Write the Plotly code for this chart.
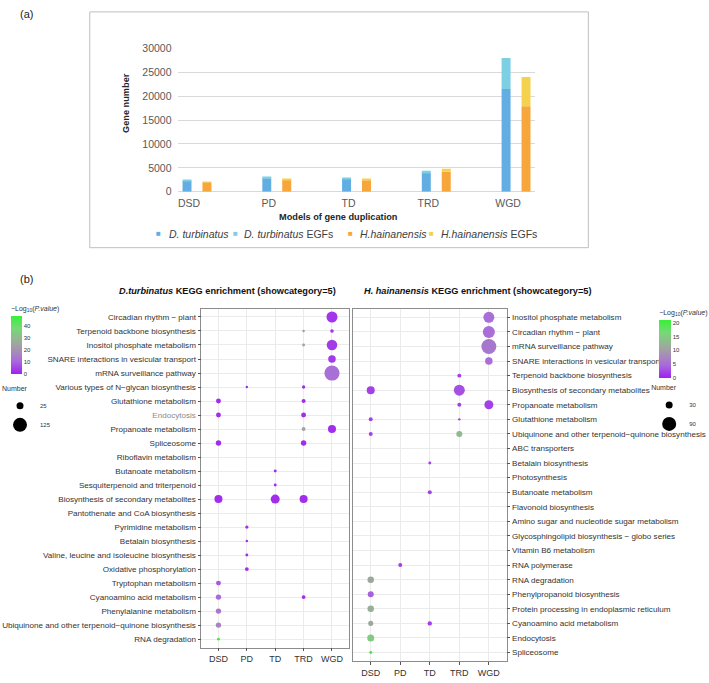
import math
import plotly.graph_objects as go

W, H = 709, 683
FONT = "Liberation Sans, Arial, sans-serif"

# ---------------- Panel (a) data ----------------
models = ["DSD", "PD", "TD", "TRD", "WGD"]
dt_genes = [2250, 2800, 2680, 3980, 21500]      # D. turbinatus
dt_egfs = [150, 280, 200, 400, 6500]            # D. turbinatus EGFs
hh_genes = [1970, 2480, 2410, 4190, 17900]      # H. hainanensis
hh_egfs = [150, 250, 200, 600, 6150]            # H. hainanensis EGFs

# ---------------- Panel (b) data ----------------
dt_pathways = [
    "Circadian rhythm − plant", "Terpenoid backbone biosynthesis",
    "Inositol phosphate metabolism", "SNARE interactions in vesicular transport",
    "mRNA surveillance pathway", "Various types of N−glycan biosynthesis",
    "Glutathione metabolism", "Endocytosis", "Propanoate metabolism", "Spliceosome",
    "Riboflavin metabolism", "Butanoate metabolism", "Sesquiterpenoid and triterpenoid",
    "Biosynthesis of secondary metabolites", "Pantothenate and CoA biosynthesis",
    "Pyrimidine metabolism", "Betalain biosynthesis",
    "Valine, leucine and isoleucine biosynthesis", "Oxidative phosphorylation",
    "Tryptophan metabolism", "Cyanoamino acid metabolism", "Phenylalanine metabolism",
    "Ubiquinone and other terpenoid−quinone biosynthesis", "RNA degradation",
]
dt_dot_path = [
    "Circadian rhythm − plant", "Terpenoid backbone biosynthesis", "Terpenoid backbone biosynthesis",
    "Inositol phosphate metabolism", "Inositol phosphate metabolism",
    "SNARE interactions in vesicular transport", "mRNA surveillance pathway",
    "Various types of N−glycan biosynthesis", "Various types of N−glycan biosynthesis",
    "Glutathione metabolism", "Glutathione metabolism", "Endocytosis", "Endocytosis",
    "Propanoate metabolism", "Propanoate metabolism", "Spliceosome", "Spliceosome",
    "Butanoate metabolism", "Sesquiterpenoid and triterpenoid",
    "Biosynthesis of secondary metabolites", "Biosynthesis of secondary metabolites",
    "Biosynthesis of secondary metabolites", "Pyrimidine metabolism", "Betalain biosynthesis",
    "Valine, leucine and isoleucine biosynthesis", "Oxidative phosphorylation",
    "Tryptophan metabolism", "Cyanoamino acid metabolism", "Cyanoamino acid metabolism",
    "Phenylalanine metabolism", "Ubiquinone and other terpenoid−quinone biosynthesis",
    "RNA degradation",
]
dt_dot_model = ["WGD", "TRD", "WGD", "TRD", "WGD", "WGD", "WGD", "PD", "TRD", "DSD", "TRD",
                "DSD", "TRD", "TRD", "WGD", "DSD", "TRD", "TD", "TD", "DSD", "TD", "TRD",
                "PD", "PD", "PD", "PD", "DSD", "DSD", "TRD", "DSD", "DSD", "DSD"]
dt_dot_number = [73, 1, 4, 2, 66, 30, 150, 1, 3, 10, 6, 10, 10, 5, 35, 13, 13, 2, 2,
                 35, 46, 35, 3, 1, 2, 5, 10, 13, 5, 13, 13, 2]
dt_dot_logp = [3, 22, 3, 24, 4, 4, 12, 1.5, 2, 2, 2, 2, 2, 24, 2, 2, 2, 2, 2,
               2, 2, 2, 2, 1.5, 2, 2, 8, 11, 2, 14, 17, 47]

hh_pathways = [
    "Inositol phosphate metabolism", "Circadian rhythm − plant", "mRNA surveillance pathway",
    "SNARE interactions in vesicular transport", "Terpenoid backbone biosynthesis",
    "Biosynthesis of secondary metabolites", "Propanoate metabolism", "Glutathione metabolism",
    "Ubiquinone and other terpenoid−quinone biosynthesis", "ABC transporters",
    "Betalain biosynthesis", "Photosynthesis", "Butanoate metabolism", "Flavonoid biosynthesis",
    "Amino sugar and nucleotide sugar metabolism", "Glycosphingolipid biosynthesis − globo series",
    "Vitamin B6 metabolism", "RNA polymerase", "RNA degradation", "Phenylpropanoid biosynthesis",
    "Protein processing in endoplasmic reticulum", "Cyanoamino acid metabolism", "Endocytosis",
    "Spliceosome",
]
hh_dot_path = [
    "Inositol phosphate metabolism", "Circadian rhythm − plant", "mRNA surveillance pathway",
    "SNARE interactions in vesicular transport", "Terpenoid backbone biosynthesis",
    "Biosynthesis of secondary metabolites", "Biosynthesis of secondary metabolites",
    "Propanoate metabolism", "Propanoate metabolism", "Glutathione metabolism",
    "Glutathione metabolism", "Ubiquinone and other terpenoid−quinone biosynthesis",
    "Ubiquinone and other terpenoid−quinone biosynthesis", "Betalain biosynthesis",
    "Butanoate metabolism", "RNA polymerase", "RNA degradation", "Phenylpropanoid biosynthesis",
    "Protein processing in endoplasmic reticulum", "Cyanoamino acid metabolism",
    "Cyanoamino acid metabolism", "Endocytosis", "Spliceosome",
]
hh_dot_model = ["WGD", "WGD", "WGD", "WGD", "TRD", "DSD", "TRD", "TRD", "WGD", "DSD", "TRD",
                "DSD", "TRD", "TD", "TD", "PD", "DSD", "DSD", "DSD", "DSD", "TD", "DSD", "DSD"]
hh_dot_number = [60, 70, 101, 33, 14, 37, 60, 14, 44, 14, 8, 14, 24, 10, 14, 14, 27, 24,
                 27, 19, 16, 30, 10]
hh_dot_logp = [5, 5, 6, 5, 2, 2, 3, 2, 2, 2, 2, 2, 13, 2, 2, 2, 11, 4, 12, 11, 2, 15, 20.7]

dt_size_legend = [25, 125]
hh_size_legend = [30, 90]

# ---------------- helpers ----------------
def px(x):
    return x / W


def py(y):
    return 1 - y / H


def size_scale(ref_n, ref_d):
    """ggplot-like size scale: diameter linear in sqrt(Number), fixed by legend keys."""
    s0, s1 = math.sqrt(ref_n[0]), math.sqrt(ref_n[1])
    b = (ref_d[1] - ref_d[0]) / (s1 - s0)
    a = ref_d[0] - b * s0
    return lambda n: max(2.0, a + b * math.sqrt(n))


dt_size = size_scale(dt_size_legend, (7, 14))
hh_size = size_scale(hh_size_legend, (7, 14))

CSCALE = [[0.0, "#A020F0"], [0.22, "#A96ADC"], [0.5, "#A2A2A2"],
          [0.78, "#78D878"], [1.0, "#38F038"]]

C_DT, C_DT_E = "#62AEE3", "#7DCFE4"
C_HH, C_HH_E = "#F6A63A", "#F5D24E"

fig = go.Figure()

# ---------------- Panel (a): stacked bars ----------------
xi = list(range(len(models)))
BW = 0.1125
fig.add_trace(go.Bar(x=xi, y=dt_genes, offset=-0.181, width=BW, marker_color=C_DT,
                     marker_line_width=0, name="D. turbinatus", showlegend=False))
fig.add_trace(go.Bar(x=xi, y=dt_egfs, base=dt_genes, offset=-0.181, width=BW,
                     marker_color=C_DT_E, marker_line_width=0, name="D. turbinatus EGFs",
                     showlegend=False))
fig.add_trace(go.Bar(x=xi, y=hh_genes, offset=0.069, width=BW, marker_color=C_HH,
                     marker_line_width=0, name="H.hainanensis", showlegend=False))
fig.add_trace(go.Bar(x=xi, y=hh_egfs, base=hh_genes, offset=0.069, width=BW,
                     marker_color=C_HH_E, marker_line_width=0, name="H.hainanensis EGFs",
                     showlegend=False))

# ---------------- Panel (b): dot plots ----------------
fig.add_trace(go.Scatter(
    x=dt_dot_model, y=dt_dot_path, mode="markers", xaxis="x2", yaxis="y2",
    marker=dict(size=[dt_size(n) for n in dt_dot_number], color=dt_dot_logp,
                coloraxis="coloraxis", line=dict(width=0), opacity=1),
    showlegend=False, hoverinfo="x+y"))
fig.add_trace(go.Scatter(
    x=hh_dot_model, y=hh_dot_path, mode="markers", xaxis="x3", yaxis="y3",
    marker=dict(size=[hh_size(n) for n in hh_dot_number], color=hh_dot_logp,
                coloraxis="coloraxis2", line=dict(width=0), opacity=1),
    showlegend=False, hoverinfo="x+y"))

# size legends
for n in dt_size_legend:
    fig.add_trace(go.Scatter(x=[None], y=[None], mode="markers", xaxis="x2", yaxis="y2",
                             marker=dict(size=dt_size(n), color="black"), name=str(n),
                             legend="legend2", showlegend=True))
for n in hh_size_legend:
    fig.add_trace(go.Scatter(x=[None], y=[None], mode="markers", xaxis="x3", yaxis="y3",
                             marker=dict(size=hh_size(n), color="black"), name=str(n),
                             legend="legend3", showlegend=True))

GRID_B = "#EBEBEB"
BORDER = "#8C8C8C"
LBL = "#333333"

dt_ticktext = [f'<span style="color:#8a8a8a">{p}</span>' if p == "Endocytosis" else p
               for p in dt_pathways]

common_x = dict(type="category", categoryorder="array", categoryarray=models,
                range=[-0.6, 4.6], showgrid=True, gridcolor=GRID_B, gridwidth=0.6,
                showline=True, mirror=True, linecolor=BORDER, linewidth=0.8,
                ticks="outside", ticklen=3, tickwidth=0.6, tickcolor="#555555",
                tickfont=dict(size=9, color=LBL, family=FONT), zeroline=False)

fig.update_layout(
    width=W, height=H, margin=dict(l=0, r=0, t=0, b=0),
    paper_bgcolor="white", plot_bgcolor="white", barmode="overlay",
    font=dict(family=FONT, color=LBL),
    xaxis=dict(domain=[px(176), px(535)], range=[-0.244, 4.244], showgrid=False,
               zeroline=False, showline=False, ticks="", tickmode="array",
               tickvals=[i - 0.1 for i in xi], ticktext=models,
               tickfont=dict(size=10.5, color="#595959", family=FONT),
               ticklabelstandoff=4, anchor="y"),
    yaxis=dict(domain=[py(189), py(43.3)], range=[0, 30000], dtick=5000, tickformat="d",
               showgrid=True, gridcolor="#D9D9D9", gridwidth=1, zeroline=True,
               zerolinecolor="#D9D9D9", zerolinewidth=1, showline=False, ticks="",
               tickfont=dict(size=10.5, color="#595959", family=FONT),
               ticklabelstandoff=5, anchor="x"),
    xaxis2=dict(common_x, domain=[px(200), px(348)], anchor="y2"),
    yaxis2=dict(type="category", categoryorder="array", categoryarray=dt_pathways,
                range=[len(dt_pathways) - 0.4, -0.6], domain=[py(653), py(308)],
                tickmode="array", tickvals=dt_pathways, ticktext=dt_ticktext,
                showgrid=True, gridcolor=GRID_B, gridwidth=0.6, showline=True, mirror=True,
                linecolor=BORDER, linewidth=0.8, ticks="outside", ticklen=3, tickwidth=0.6,
                tickcolor="#555555", tickfont=dict(size=8.1, color=LBL, family=FONT),
                ticklabelstandoff=0, zeroline=False, anchor="x2"),
    xaxis3=dict(common_x, domain=[px(352), px(506)], anchor="y3"),
    yaxis3=dict(type="category", categoryorder="array", categoryarray=hh_pathways,
                range=[len(hh_pathways) - 0.4, -0.6], domain=[py(667), py(308)],
                side="right", showgrid=True, gridcolor=GRID_B, gridwidth=0.6, showline=True,
                mirror=True, linecolor=BORDER, linewidth=0.8, ticks="outside", ticklen=3,
                tickwidth=0.6, tickcolor="#555555",
                tickfont=dict(size=8.1, color=LBL, family=FONT), ticklabelstandoff=0,
                zeroline=False, anchor="x3"),
    coloraxis=dict(colorscale=CSCALE, cmin=0, cmax=48,
                   colorbar=dict(x=px(9), xanchor="left", xpad=0, ypad=0,
                                 y=py(338), yanchor="middle", lenmode="pixels", len=71,
                                 thickness=11, outlinewidth=0, tickvals=[0, 10, 20, 30, 40],
                                 ticks="", tickfont=dict(size=6, color=LBL, family=FONT),
                                 title=dict(text="−Log<sub>10</sub>(<i>P.value</i>)",
                                            side="top", font=dict(size=7, color=LBL)))),
    coloraxis2=dict(colorscale=CSCALE, cmin=0, cmax=21,
                    colorbar=dict(x=px(659), xanchor="left", xpad=0, ypad=0,
                                  y=py(342), yanchor="middle", lenmode="pixels", len=71,
                                  thickness=12, outlinewidth=0, tickvals=[0, 5, 10, 15, 20],
                                  ticks="", tickfont=dict(size=6, color=LBL, family=FONT),
                                  title=dict(text="−Log<sub>10</sub>(<i>P.value</i>)",
                                             side="top", font=dict(size=7, color=LBL)))),
    legend2=dict(x=px(-2), y=py(383), xanchor="left", yanchor="top",
                 title=dict(text="Number", font=dict(size=7, color=LBL)),
                 font=dict(size=6, color=LBL), itemsizing="trace", bgcolor="rgba(0,0,0,0)",
                 tracegroupgap=0),
    legend3=dict(x=px(649), y=py(382), xanchor="left", yanchor="top",
                 title=dict(text="Number", font=dict(size=7, color=LBL)),
                 font=dict(size=6, color=LBL), itemsizing="trace", bgcolor="rgba(0,0,0,0)",
                 tracegroupgap=0),
)

# panel (a) frame
fig.add_shape(type="rect", xref="paper", yref="paper", x0=px(88), x1=px(588),
              y0=py(246), y1=py(6), line=dict(color="#BFBFBF", width=1), layer="below")

ann = []
ann.append(dict(text="(a)", x=px(16), y=py(8), xanchor="left", yanchor="middle",
                font=dict(size=11, color="#222222")))
ann.append(dict(text="(b)", x=px(16), y=py(278), xanchor="left", yanchor="middle",
                font=dict(size=11, color="#222222")))
ann.append(dict(text="<b>Gene number</b>", x=px(125), y=py(99), textangle=-90,
                xanchor="center", yanchor="middle", font=dict(size=9.2, color="#262626")))
ann.append(dict(text="<b>Models of gene duplication</b>", x=px(337), y=py(215),
                xanchor="center", yanchor="middle", font=dict(size=9.2, color="#262626")))
leg_cols = [C_DT, C_DT_E, C_HH, C_HH_E]
leg_txt = ["<i>D. turbinatus</i>", "<i>D. turbinatus</i> EGFs",
           "<i>H.hainanensis</i>", "<i>H.hainanensis</i> EGFs"]
sq_x = [157, 234, 349, 431]
tx_x = [165, 241, 357, 438]
for c, t, sx, tx in zip(leg_cols, leg_txt, sq_x, tx_x):
    ann.append(dict(text="■", x=px(sx), y=py(232), xanchor="center", yanchor="middle",
                    font=dict(size=8, color=c)))
    ann.append(dict(text=t, x=px(tx), y=py(232), xanchor="left", yanchor="middle",
                    font=dict(size=10.5, color="#404040")))
ann.append(dict(text="<b><i>D.turbinatus</i> KEGG enrichment (showcategory=5)</b>",
                x=px(115), y=py(290), xanchor="left", yanchor="middle",
                font=dict(size=9.2, color="#111111")))
ann.append(dict(text="<b><i>H. hainanensis</i> KEGG enrichment (showcategory=5)</b>",
                x=px(361), y=py(290), xanchor="left", yanchor="middle",
                font=dict(size=9.2, color="#111111")))
for a in ann:
    a.update(xref="paper", yref="paper", showarrow=False)
    fig.add_annotation(**a)

fig.write_html("out.html",
               config={"displayModeBar": False},
               post_script="document.body.style.margin='0px';"
                           "document.body.style.padding='0px';")
